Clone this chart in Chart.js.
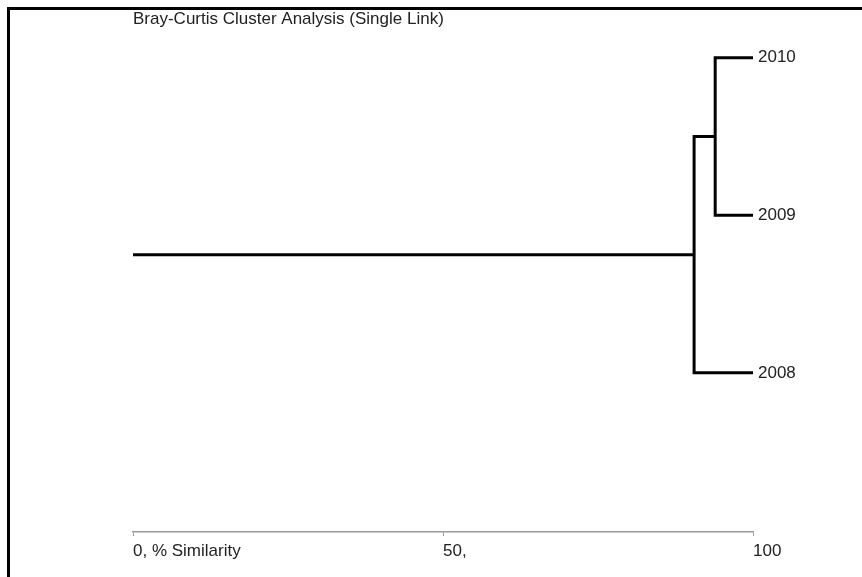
<!DOCTYPE html>
<html>
<head>
<meta charset="utf-8">
<script src="https://cdn.jsdelivr.net/npm/chart.js@4"></script>
<style>
  body { margin: 0; background: #fff; }
  #frame { position: absolute; left: 7px; top: 7px; right: 0; bottom: 0;
           border-left: 3px solid #000; border-top: 3px solid #000; }
  #wrap { position: absolute; left: 0; top: 0; width: 862px; height: 577px; }
</style>
</head>
<body>
<div id="frame"></div>
<div id="wrap"><canvas id="dendro"></canvas></div>
<script>
// leaves, top to bottom, and their row positions
const leafNames = ['2010', '2009', '2008'];
const leafRows = [3, 2, 1];
// % similarity at which the clusters join
const joinSim = [93.9, 90.5];   // 2010+2009, then +2008
const xTickValues = [0, 50, 100];
const xTickLabels = ['0, % Similarity', '50,', '100'];

document.addEventListener('DOMContentLoaded', () => {
    // build the dendrogram branches from the data above
    const midA = (leafRows[0] + leafRows[1]) / 2;
    const midRoot = (midA + leafRows[2]) / 2;
    const branches = [
        [{x: 100, y: leafRows[0]}, {x: joinSim[0], y: leafRows[0]}, {x: joinSim[0], y: leafRows[1]}, {x: 100, y: leafRows[1]}],
        [{x: joinSim[0], y: midA}, {x: joinSim[1], y: midA}, {x: joinSim[1], y: leafRows[2]}, {x: 100, y: leafRows[2]}],
        [{x: joinSim[1], y: midRoot}, {x: 0, y: midRoot}]
    ];

    const font = { family: 'Liberation Sans, Arial, sans-serif', size: 17, weight: 'normal' };

    const ctx = document.getElementById('dendro').getContext('2d');
    new Chart(ctx, {
        type: 'scatter',
        data: {
            datasets: branches.map(pts => ({
                data: pts,
                showLine: true,
                borderColor: '#000',
                borderWidth: 3,
                pointRadius: 0,
                borderJoinStyle: 'miter',
                tension: 0
            }))
        },
        options: {
            responsive: true,
            maintainAspectRatio: false,
            animation: false,
            layout: { padding: { left: 133, right: 0, top: 0, bottom: 0 } },
            plugins: {
                legend: { display: false },
                tooltip: { enabled: false },
                title: {
                    display: true,
                    text: 'Bray-Curtis Cluster Analysis (Single Link)',
                    align: 'start',
                    color: '#222',
                    font: font,
                    padding: { top: 9, bottom: 0 }
                }
            },
            scales: {
                x: {
                    type: 'linear',
                    position: 'bottom',
                    min: 0,
                    max: 100,
                    afterFit: s => { s.height = 45; },
                    afterBuildTicks: s => { s.ticks = xTickValues.map(v => ({ value: v })); },
                    border: { display: true, color: '#9a9a9a', width: 1.5 },
                    grid: { display: true, drawOnChartArea: false, drawTicks: true, tickLength: 4, color: '#9a9a9a' },
                    ticks: {
                        autoSkip: false,
                        maxRotation: 0,
                        align: 'start',
                        padding: 5,
                        color: '#222',
                        font: font,
                        callback: v => xTickLabels[xTickValues.indexOf(v)]
                    }
                },
                y: {
                    type: 'linear',
                    position: 'right',
                    min: -0.01,
                    max: 3.18,
                    afterFit: s => { s.width = 109; },
                    afterBuildTicks: s => { s.ticks = leafRows.map(v => ({ value: v })); },
                    border: { display: false },
                    grid: { display: false, drawTicks: false },
                    ticks: {
                        padding: 5,
                        color: '#222',
                        font: font,
                        callback: v => leafNames[leafRows.indexOf(v)]
                    }
                }
            }
        }
    });
});
</script>
</body>
</html>
